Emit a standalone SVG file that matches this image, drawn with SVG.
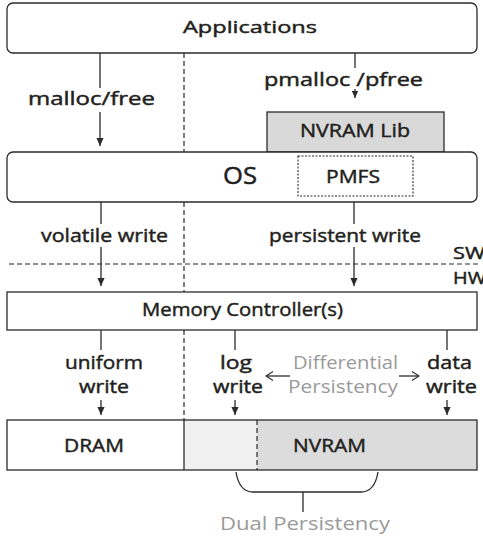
<svg xmlns="http://www.w3.org/2000/svg" width="483" height="539" viewBox="0 0 483 539">
  <style>
    .box { fill: #ffffff; stroke: #2b2b2b; stroke-width: 1.3; }
    .lib { fill: #d9d9da; stroke: #2b2b2b; stroke-width: 1.3; }
    .dotbox { fill: none; stroke: #2b2b2b; stroke-width: 1.1; stroke-dasharray: 2 1.5; }
    .wire { fill: none; stroke: #2b2b2b; stroke-width: 1.3; }
    .dash { fill: none; stroke: #2b2b2b; stroke-width: 1.2; stroke-dasharray: 5 3; }
    text { font-family: "Open Sans", "Liberation Sans", sans-serif; fill: #231f20; stroke: #231f20; stroke-width: 0.45; }
    .lbl { font-size: 18px; }
    .gray { fill: #9a9a9a; stroke: none; }
  </style>
  <defs>
    <marker id="tip" viewBox="0 0 8 8" refX="8" refY="4" markerWidth="8" markerHeight="8" markerUnits="userSpaceOnUse" orient="auto">
      <path d="M0,0.4 L8,4 L0,7.6 Z" fill="#2b2b2b"/>
    </marker>
    <marker id="tipSmall" viewBox="0 0 8 8" refX="8" refY="4" markerWidth="7" markerHeight="7" markerUnits="userSpaceOnUse" orient="auto">
      <path d="M0,0.4 L8,4 L0,7.6 Z" fill="#2b2b2b"/>
    </marker>
    <marker id="chevron" viewBox="0 0 10 10" refX="9" refY="5" markerWidth="10" markerHeight="10" markerUnits="userSpaceOnUse" orient="auto">
      <path d="M2,0.5 L9,5 L2,9.5" fill="none" stroke="#2b2b2b" stroke-width="1.1"/>
    </marker>
  </defs>

  <!-- bottom memory strip: DRAM | log area | NVRAM -->
  <g id="memory">
    <rect x="184" y="420" width="73" height="50" fill="#f0f0f1"/>
    <rect x="257" y="420" width="220" height="50" fill="#dcdcdd"/>
    <rect x="7" y="420" width="470" height="50" fill="none" stroke="#2b2b2b" stroke-width="1.3"/>
    <line x1="184" y1="420" x2="184" y2="470" class="wire"/>
    <line x1="257" y1="420" x2="257" y2="470" class="dash" stroke-dasharray="6 4"/>
  </g>
  <g id="dram">
    <text class="lbl" x="64" y="452" textLength="60" lengthAdjust="spacingAndGlyphs">DRAM</text>
  </g>
  <g id="nvram">
    <text class="lbl" x="293" y="452" textLength="73" lengthAdjust="spacingAndGlyphs">NVRAM</text>
  </g>

  <!-- software layers -->
  <g id="applications">
    <rect class="box" x="7" y="3" width="470" height="50" rx="6"/>
    <text x="183" y="33" font-size="17" textLength="134" lengthAdjust="spacingAndGlyphs">Applications</text>
  </g>
  <g id="nvram-lib">
    <rect class="lib" x="267" y="112" width="177" height="40"/>
    <text class="lbl" x="300" y="137" textLength="110" lengthAdjust="spacingAndGlyphs">NVRAM Lib</text>
  </g>
  <g id="os">
    <rect class="box" x="7" y="152" width="470" height="50" rx="6"/>
    <text x="223" y="184" font-size="23" textLength="34" lengthAdjust="spacingAndGlyphs">OS</text>
  </g>
  <g id="pmfs">
    <rect class="dotbox" x="298" y="156" width="115" height="40"/>
    <text class="lbl" x="326" y="183" textLength="54" lengthAdjust="spacingAndGlyphs">PMFS</text>
  </g>
  <g id="memory-controller">
    <rect class="box" x="7" y="292" width="470" height="38"/>
    <text class="lbl" x="142" y="316" textLength="201" lengthAdjust="spacingAndGlyphs">Memory Controller(s)</text>
  </g>

  <!-- connectors -->
  <g id="connectors">
    <!-- volatile / persistent split -->
    <line class="dash" x1="184" y1="53" x2="184" y2="152"/>
    <line class="dash" x1="184" y1="202" x2="184" y2="292"/>
    <line class="dash" x1="184" y1="330" x2="184" y2="420"/>
    <!-- SW / HW boundary -->
    <line class="dash" x1="9" y1="264" x2="481" y2="264"/>

    <line class="wire" x1="100" y1="53" x2="100" y2="88"/>
    <line class="wire" x1="100" y1="112" x2="100" y2="146" marker-end="url(#tip)"/>

    <line class="wire" x1="355" y1="53" x2="355" y2="68"/>
    <line class="wire" x1="355" y1="89" x2="355" y2="98" marker-end="url(#tipSmall)"/>

    <line class="wire" x1="101" y1="202" x2="101" y2="224"/>
    <line class="wire" x1="101" y1="247" x2="101" y2="286" marker-end="url(#tip)"/>

    <line class="wire" x1="354" y1="202" x2="354" y2="224"/>
    <line class="wire" x1="354" y1="247" x2="354" y2="286" marker-end="url(#tip)"/>

    <line class="wire" x1="101" y1="330" x2="101" y2="350"/>
    <line class="wire" x1="101" y1="400" x2="101" y2="415" marker-end="url(#tip)"/>

    <line class="wire" x1="235" y1="330" x2="235" y2="350"/>
    <line class="wire" x1="235" y1="400" x2="235" y2="415" marker-end="url(#tip)"/>

    <line class="wire" x1="447" y1="330" x2="447" y2="350"/>
    <line class="wire" x1="447" y1="400" x2="447" y2="415" marker-end="url(#tip)"/>

    <!-- differential persistency arrows -->
    <line class="wire" x1="290" y1="376" x2="266" y2="376" stroke-width="1.1" marker-end="url(#chevron)"/>
    <line class="wire" x1="399" y1="376" x2="419" y2="376" stroke-width="1.1" marker-end="url(#chevron)"/>

    <!-- dual persistency brace -->
    <path class="wire" d="M236,472 C238,484 243,492 253,492 L361,492 C371,492 376,484 378,472"/>
    <line class="wire" x1="303" y1="492" x2="303" y2="512"/>
  </g>

  <!-- labels -->
  <g id="labels">
    <text class="lbl" x="28" y="105" textLength="127" lengthAdjust="spacingAndGlyphs">malloc/free</text>
    <text class="lbl" x="264" y="86" textLength="159" lengthAdjust="spacingAndGlyphs">pmalloc /pfree</text>
    <text class="lbl" x="41" y="242" textLength="127" lengthAdjust="spacingAndGlyphs">volatile write</text>
    <text class="lbl" x="269" y="242" textLength="152" lengthAdjust="spacingAndGlyphs">persistent write</text>
    <text x="453" y="259" font-size="17" textLength="32" lengthAdjust="spacingAndGlyphs">SW</text>
    <text x="453" y="284" font-size="17" textLength="33" lengthAdjust="spacingAndGlyphs">HW</text>
    <text class="lbl" x="65" y="369" textLength="78" lengthAdjust="spacingAndGlyphs">uniform</text>
    <text class="lbl" x="79" y="393" textLength="50" lengthAdjust="spacingAndGlyphs">write</text>
    <text class="lbl" x="220" y="369" textLength="32" lengthAdjust="spacingAndGlyphs">log</text>
    <text class="lbl" x="213" y="393" textLength="50" lengthAdjust="spacingAndGlyphs">write</text>
    <text class="lbl gray" x="293" y="369" textLength="105" lengthAdjust="spacingAndGlyphs">Differential</text>
    <text class="lbl gray" x="288" y="393" textLength="110" lengthAdjust="spacingAndGlyphs">Persistency</text>
    <text class="lbl" x="427" y="369" textLength="45" lengthAdjust="spacingAndGlyphs">data</text>
    <text class="lbl" x="426" y="393" textLength="51" lengthAdjust="spacingAndGlyphs">write</text>
    <text class="gray" x="220" y="530" font-size="19" textLength="170" lengthAdjust="spacingAndGlyphs">Dual Persistency</text>
  </g>
</svg>
